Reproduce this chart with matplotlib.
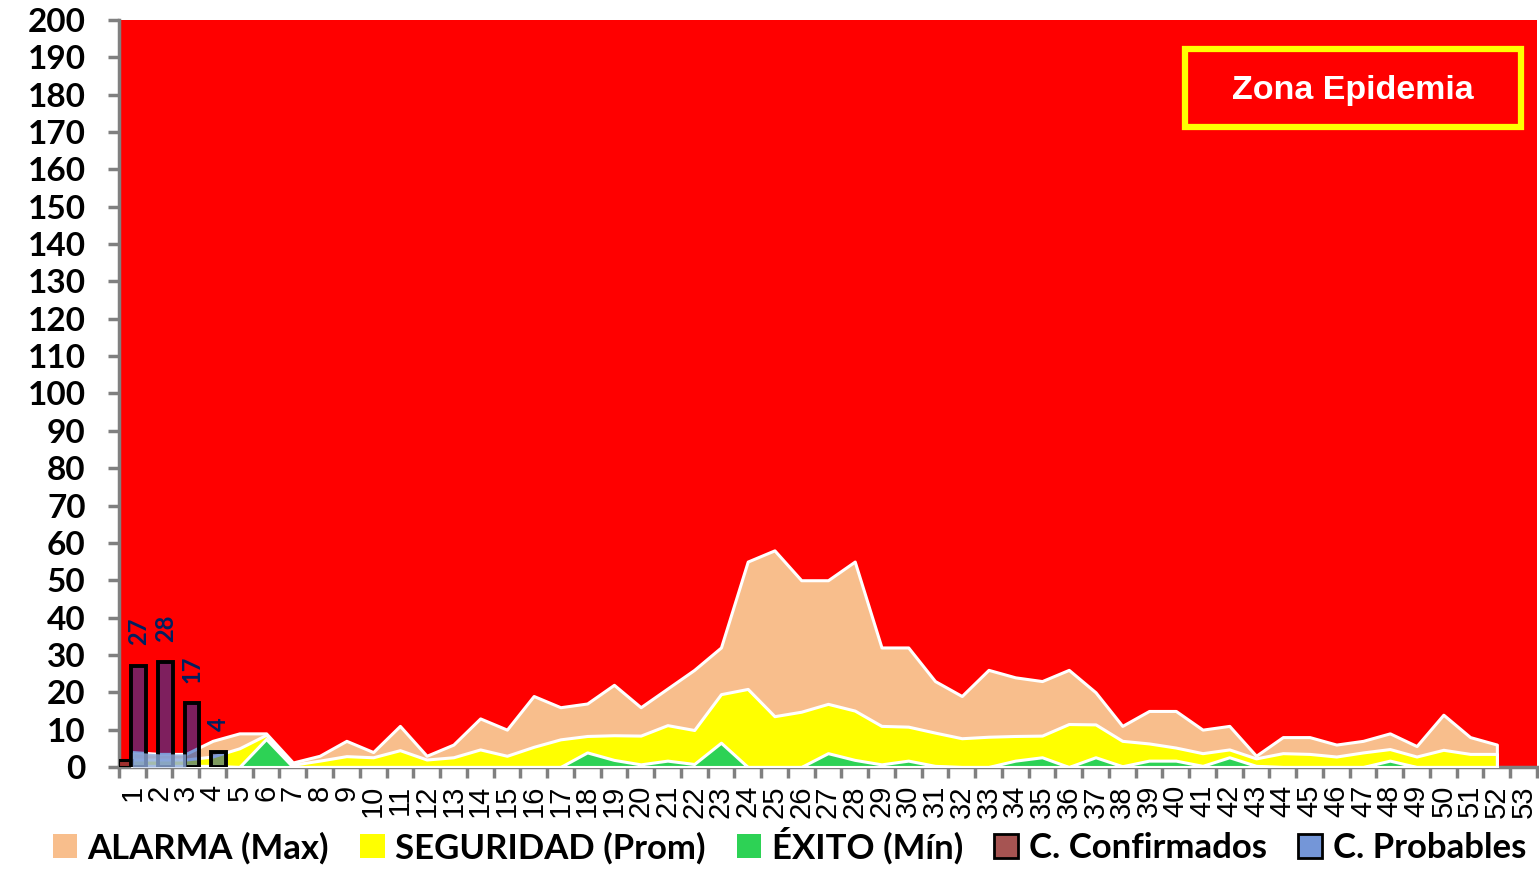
import matplotlib.pyplot as plt
import numpy as np
from matplotlib.patches import Rectangle, Patch

# weekly data (epidemiological weeks)
weeks = np.arange(1, 54)
alarma = [4, 3.5, 3.5, 7, 9, 9, 1.2, 3, 7, 4,
          11, 3, 6, 13, 10, 19, 16, 17, 22, 16,
          21, 26, 32, 55, 58, 50, 50, 55, 32, 32,
          23, 19, 26, 24, 23, 26, 20, 11, 15, 15,
          10, 11, 3, 8, 8, 6, 7, 9, 5.6, 14,
          8, 6]
seguridad = [2, 2, 2, 2.8, 5, 8.6, 0.6, 1.7, 2.9, 2.6,
             4.5, 2, 2.6, 4.7, 3, 5.4, 7.4, 8.3, 8.5, 8.4,
             11.2, 9.9, 19.5, 20.9, 13.6, 14.8, 16.9, 15.1, 11, 10.8,
             9.2, 7.7, 8.1, 8.3, 8.4, 11.5, 11.4, 7, 6.3, 5.2,
             3.7, 4.7, 2.3, 3.7, 3.5, 2.8, 3.9, 4.8, 2.8, 4.6,
             3.5, 3.5]
exito = [0.3, 0.3, 0.3, 0.3, 0, 7.5, 0, 0, 0, 0,
         0, 0, 0, 0, 0, 0, 0, 3.9, 1.9, 0.7,
         1.7, 0.8, 6.5, 0, 0, 0, 3.7, 1.9, 0.7, 1.7,
         0.3, 0, 0, 1.7, 2.6, 0, 2.6, 0.2, 1.7, 1.7,
         0.3, 2.6, 0.3, 0, 0, 0, 0, 1.7, 0, 0,
         0, 0]
confirmados = [2]
probables = [27, 28, 17, 4]

c_alarma = '#F8BE8C'
c_seg = '#FFFF00'
c_exito = '#2DD255'
c_conf = '#A65452'
c_prob = '#7496D8'

fig = plt.figure(figsize=(15.39, 8.69), dpi=100)
ax = fig.add_axes([0.0773, 0.1174, 0.9214, 0.8596])
ax.set_facecolor('#FF0000')

x = weeks[:len(alarma)]
ax.fill_between(x, 0, alarma, facecolor=c_alarma, edgecolor='white', lw=2.2, zorder=2)
ax.fill_between(x, 0, seguridad, facecolor=c_seg, edgecolor='white', lw=2.2, zorder=3)
ax.fill_between(x, 0, exito, facecolor=c_exito, edgecolor='white', lw=2.2, zorder=4)

# bars
xb = weeks[:len(probables)] + 0.23
ax.bar(weeks[:len(confirmados)] - 0.27, confirmados, width=0.5, color='#A0302F',
       edgecolor='black', lw=2.2, zorder=5)
ax.bar(xb, probables, width=0.55, color=(0.03, 0.24, 0.71, 0.52),
       edgecolor='black', lw=2.8, zorder=5)
ax.fill_between(x[:3], 0, alarma[:3], color='#8EAADB', alpha=0.8, lw=0, zorder=6)
for xi, v in zip(xb, probables):
    ax.annotate(str(v), (xi, v), xytext=(0, 15), textcoords='offset points',
                rotation=90, ha='center', va='bottom', color='#002060',
                fontweight='bold', fontsize=17, family='Lato')

ax.set_xlim(0.5, 53.5)
ax.set_ylim(0, 200)
ax.set_yticks(np.arange(0, 201, 10))
ax.set_yticklabels([str(v) for v in range(0, 201, 10)], fontsize=24,
                   fontweight='bold', family='Lato')
ax.set_xticks(np.arange(0.5, 54, 1))
ax.set_xticklabels([])
ax.set_xticks(weeks, minor=True)
ax.set_xticklabels([str(w) for w in weeks], minor=True, rotation=90,
                   fontsize=21, family='Liberation Sans')
ax.tick_params(axis='x', which='minor', length=0, pad=13)
ax.tick_params(axis='x', which='major', length=8, width=2.5, color='#808080')
ax.tick_params(axis='y', length=8, width=2.5, color='#808080', pad=16)
for s in ['top', 'right']:
    ax.spines[s].set_visible(False)
for s in ['left', 'bottom']:
    ax.spines[s].set_color('#808080')
    ax.spines[s].set_linewidth(2.5)

# Zona Epidemia box
ax.add_patch(Rectangle((0.7518, 0.8568), 0.2369, 0.1044, transform=ax.transAxes,
                       facecolor='#FF0000', edgecolor='#FFFF00', lw=4.5, zorder=7))
ax.text(0.870, 0.906, 'Zona Epidemia', transform=ax.transAxes, ha='center',
        va='center', color='white', fontsize=24.5, fontweight='bold',
        family='Liberation Sans', zorder=8)

handles = [Patch(facecolor=c_alarma, edgecolor='none'),
           Patch(facecolor=c_seg, edgecolor='none'),
           Patch(facecolor=c_exito, edgecolor='none'),
           Patch(facecolor=c_conf, edgecolor='black', lw=2),
           Patch(facecolor=c_prob, edgecolor='black', lw=2)]
labels = ['ALARMA (Max)', 'SEGURIDAD (Prom)', 'ÉXITO (Mín)', 'C. Confirmados', 'C. Probables']
fig.legend(handles, labels, loc='center', bbox_to_anchor=(0.513, 0.027), ncol=5,
           frameon=False, handlelength=0.7, handleheight=0.7, handletextpad=0.3,
           columnspacing=0.9, prop={'family': 'Lato', 'weight': 'bold', 'size': 25})

fig.savefig('out.png', dpi=100)
